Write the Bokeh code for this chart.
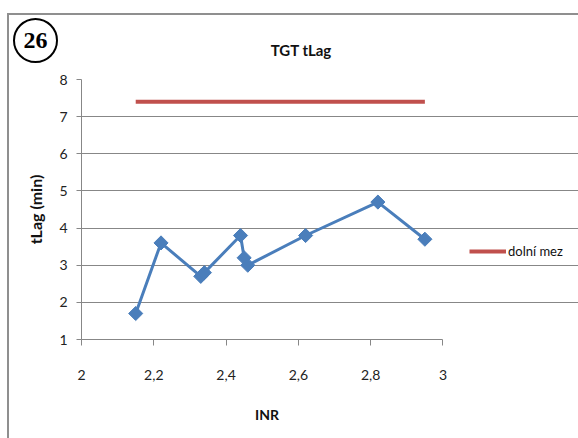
from bokeh.plotting import figure
from bokeh.layouts import column
from bokeh.models import (Range1d, FixedTicker, CustomJSTickFormatter, Legend,
                          LegendItem, Div)
from bokeh.embed import file_html
from bokeh.resources import INLINE

# INR vs. lag time measurements
inr = [2.15, 2.22, 2.33, 2.34, 2.44, 2.45, 2.46, 2.62, 2.82, 2.95]
tlag = [1.7, 3.6, 2.7, 2.8, 3.8, 3.2, 3.0, 3.8, 4.7, 3.7]

# lower reference limit
limit_x = [2.15, 2.95]
limit_y = [7.4, 7.4]

x_ticks = [2.0, 2.2, 2.4, 2.6, 2.8, 3.0]
y_ticks = [1, 2, 3, 4, 5, 6, 7, 8]

FONT = "Lato"
GRID = "#878787"

# canvas geometry: the axes cover INR 2..3 over 360 px, the frame continues
# to the right edge so the legend can sit beside the axes
W, H = 569, 423
LEFT, TOP, BOTTOM = 72, 64, 101
PX_PER_UNIT = 360
x_end = 2 + (W - LEFT) / PX_PER_UNIT

p = figure(width=W, height=H, output_backend="svg", toolbar_location=None,
           x_range=Range1d(2, x_end), y_range=Range1d(1, 8),
           min_border_left=LEFT, min_border_right=0,
           min_border_top=TOP, min_border_bottom=BOTTOM)
p.styles = {"margin-left": "7px", "margin-top": "13px",
            "border-left": "2px solid #8f8f8f",
            "border-top": "2px solid #8f8f8f",
            "box-sizing": "content-box"}
p.outline_line_color = None

# axes
for ax in (p.xaxis[0], p.yaxis[0]):
    ax.axis_line_color = GRID
    ax.major_tick_line_color = GRID
    ax.minor_tick_line_color = None
    ax.major_tick_in = 0
    ax.major_label_text_font = FONT
    ax.major_label_text_font_size = "14px"
    ax.major_label_text_color = "#222222"
    ax.axis_label_text_font = FONT
    ax.axis_label_text_font_style = "bold"
    ax.axis_label_text_color = "#111111"

p.xaxis.bounds = (2, 3)
p.xaxis.ticker = FixedTicker(ticks=x_ticks)
p.yaxis.ticker = FixedTicker(ticks=y_ticks)
p.xaxis.formatter = CustomJSTickFormatter(
    code="return (Math.round(tick * 10) / 10).toString().replace('.', ',');")
p.xaxis.major_tick_out = 6
p.yaxis.major_tick_out = 5
p.xaxis.major_label_standoff = 24
p.yaxis.major_label_standoff = 9
p.yaxis.axis_label = "tLag (min)"
p.yaxis.axis_label_text_font_size = "16px"
p.yaxis.axis_label_standoff = 11

p.xgrid.grid_line_color = None
p.ygrid.grid_line_color = GRID
p.ygrid.ticker = FixedTicker(ticks=y_ticks)
p.ygrid.bounds = (2, 3)

# series
red = p.line(limit_x, limit_y, line_color="#c0504d", line_width=4)
p.line(inr, tlag, line_color="#4a7ebb", line_width=3)
p.scatter(inr, tlag, marker="square", angle=0.785398, size=10,
          fill_color="#4a7ebb", line_color="#4a7ebb")

legend = Legend(items=[LegendItem(label="dolní mez", renderers=[red])],
                location=(388, 80), border_line_color=None,
                background_fill_alpha=0, padding=0, margin=0,
                glyph_width=37, glyph_height=14, label_standoff=2,
                label_text_font=FONT, label_text_font_size="13px",
                label_text_color="#111111")
p.add_layout(legend, "center")

TEXT = {"position": "absolute", "text-align": "center", "color": "#111111",
        "font-family": FONT, "font-weight": "bold", "line-height": "18px",
        "z-index": "5"}

# chart title, centred over the chart area
title = Div(text="TGT tLag", styles={**TEXT, "left": "196px", "top": "36px",
                                     "width": "200px", "font-size": "15px"})

# x axis title, centred under the INR axis
xlabel = Div(text="INR", styles={**TEXT, "left": "212px", "top": "401px",
                                 "width": "100px", "font-size": "14px"})

# figure number badge
badge = Div(text="26", styles={
    "position": "absolute", "left": "8px", "top": "13px",
    "width": "45px", "height": "45px", "border": "2px solid black",
    "border-radius": "50%", "background": "white",
    "display": "flex", "align-items": "center", "justify-content": "center",
    "font-family": "Liberation Serif", "font-weight": "bold",
    "font-size": "24px", "color": "black", "z-index": "5"})

layout = column(p, title, xlabel, badge)
open("out.html", "w").write(file_html(layout, INLINE))
